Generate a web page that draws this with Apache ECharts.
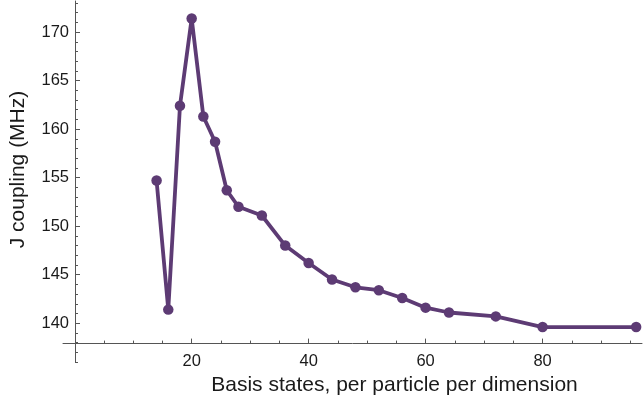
<!DOCTYPE html>
<html><head><meta charset="utf-8">
<script src="https://cdn.jsdelivr.net/npm/echarts@6/dist/echarts.min.js"></script>
<style>html,body{margin:0;padding:0;background:#fff}#c{width:644px;height:403px}</style>
</head><body><div id="c"></div>
<script>
const basisStates = [14, 16, 18, 20, 22, 24, 26, 28, 32, 36, 40, 44, 48, 52, 56, 60, 64, 72, 80, 96];
const jCoupling = [154.7, 141.4, 162.4, 171.4, 161.3, 158.7, 153.7, 152.0, 151.1, 148.0, 146.2, 144.5, 143.7, 143.4, 142.6, 141.6, 141.1, 140.7, 139.6, 139.6];
const xMajorTicks = [20, 40, 60, 80];
const xMinorTicks = [5, 10, 15, 25, 30, 35, 45, 50, 55, 65, 70, 75, 85, 90, 95];
const yMajorTicks = [140, 145, 150, 155, 160, 165, 170];
const yMinorTicks = [136, 137, 138, 139, 141, 142, 143, 144, 146, 147, 148, 149, 151, 152, 153, 154, 156, 157, 158, 159, 161, 162, 163, 164, 166, 167, 168, 169, 171, 172, 173];
const xName = 'Basis states, per particle per dimension';
const yName = 'J coupling (MHz)';

const FONT = "'Liberation Sans', Arial, sans-serif";
const AXIS = '#555555';
const TXT = '#1a1a1a';
const PURPLE = '#5d3b74';

const chart = echarts.init(document.getElementById('c'), null, {renderer: 'canvas'});
const xBase = {type: 'value', min: -2, max: 97, position: 'bottom', offset: -18.4, splitLine: {show: false}};
const yBase = {type: 'value', min: 136, max: 173.2, position: 'left', offset: -12, splitLine: {show: false}};
chart.setOption({
  animation: false,
  backgroundColor: '#ffffff',
  grid: {left: 63, top: 1, width: 579, height: 361, containLabel: false, outerBoundsMode: 'none'},
  xAxis: [
    Object.assign({}, xBase, {
      axisLine: {show: true, onZero: false, lineStyle: {color: AXIS, width: 1}},
      axisTick: {show: true, inside: true, length: 5, customValues: xMajorTicks, lineStyle: {color: AXIS, width: 1}},
      axisLabel: {show: true, customValues: xMajorTicks, margin: 9, fontSize: 16.5, color: TXT, fontFamily: FONT},
      name: xName, nameLocation: 'middle', nameGap: 28,
      nameTextStyle: {fontSize: 21, color: TXT, fontFamily: FONT, padding: [0, 0, 0, 84]}
    }),
    Object.assign({}, xBase, {
      axisLine: {show: false, onZero: false},
      axisTick: {show: true, inside: true, length: 3, customValues: xMinorTicks, lineStyle: {color: AXIS, width: 1}},
      axisLabel: {show: false}
    })
  ],
  yAxis: [
    Object.assign({}, yBase, {
      axisLine: {show: true, onZero: false, lineStyle: {color: AXIS, width: 1}},
      axisTick: {show: true, inside: true, length: 5, customValues: yMajorTicks, lineStyle: {color: AXIS, width: 1}},
      axisLabel: {show: true, customValues: yMajorTicks, margin: 6, fontSize: 16.5, color: TXT, fontFamily: FONT},
      name: yName, nameLocation: 'middle', nameGap: 46, nameRotate: 90,
      nameTextStyle: {fontSize: 21, color: TXT, fontFamily: FONT, padding: [0, 0, 0, 24]}
    }),
    Object.assign({}, yBase, {
      axisLine: {show: false, onZero: false},
      axisTick: {show: true, inside: true, length: 3, customValues: yMinorTicks, lineStyle: {color: AXIS, width: 1}},
      axisLabel: {show: false}
    })
  ],
  series: [{
    type: 'line',
    xAxisIndex: 0, yAxisIndex: 0,
    data: basisStates.map((x, i) => [x, jCoupling[i]]),
    symbol: 'circle', symbolSize: 10.5,
    lineStyle: {color: PURPLE, width: 3.8},
    itemStyle: {color: PURPLE},
    emphasis: {disabled: true},
    z: 5
  }]
});
</script></body></html>
